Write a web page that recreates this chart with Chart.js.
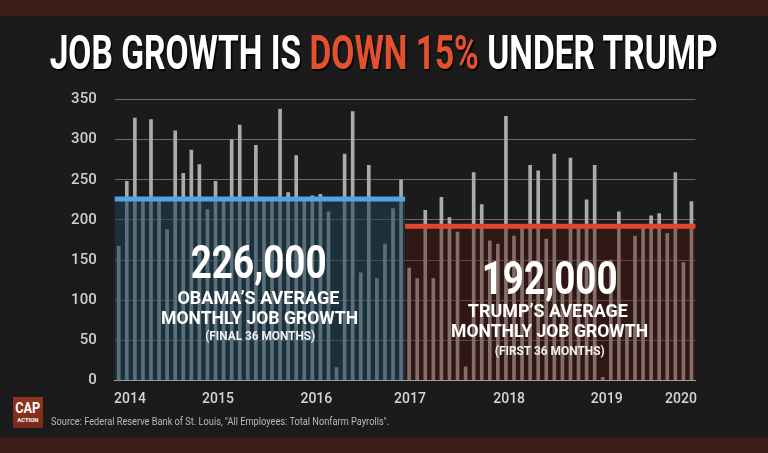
<!DOCTYPE html>
<html>
<head>
<meta charset="utf-8">
<script src="https://cdn.jsdelivr.net/npm/chart.js@4/dist/chart.umd.min.js"></script>
<style>
html,body{margin:0;padding:0;background:#1b1b1b;width:768px;height:453px;overflow:hidden;}
#wrap{position:relative;width:768px;height:453px;font-family:Roboto,"DejaVu Sans",sans-serif;}
.band{position:absolute;left:0;width:768px;background:#3d1c16;}
#c{position:absolute;left:0;top:0;}
.fit{position:absolute;white-space:nowrap;transform-origin:50% 50%;font-weight:700;color:#fff;}
#logo{position:absolute;left:13px;top:397px;width:30px;height:31px;background:linear-gradient(#93341f,#7a2a1b);}
</style>
</head>
<body>
<div id="wrap">
  <div class="band" style="top:0;height:16px"></div>
  <div class="band" style="top:437px;height:16px"></div>
  <canvas id="c" width="768" height="453"></canvas>

  <div class="fit" data-cx="384" data-w="668" data-cap="35" style="font-size:48px;line-height:48px;text-shadow:2px 2px 1px rgba(0,0,0,0.95);">JOB GROWTH IS <span style="color:#e5512f">DOWN 15%</span> UNDER TRUMP</div>

  <div class="fit" data-cx="259" data-w="136" data-cap="244" style="font-size:47px;line-height:47px;">226,000</div>
  <div class="fit" data-cx="258" data-w="162" data-cap="290" style="font-size:19px;line-height:19px;">OBAMA’S AVERAGE</div>
  <div class="fit" data-cx="260" data-w="197" data-cap="310" style="font-size:19px;line-height:19px;">MONTHLY JOB GROWTH</div>
  <div class="fit" data-cx="260" data-w="110" data-cap="331" style="font-size:12.5px;line-height:13px;color:#f0f0f0;">(FINAL 36 MONTHS)</div>

  <div class="fit" data-cx="550" data-w="136" data-cap="260" style="font-size:47px;line-height:47px;">192,000</div>
  <div class="fit" data-cx="548" data-w="160" data-cap="303" style="font-size:19px;line-height:19px;">TRUMP’S AVERAGE</div>
  <div class="fit" data-cx="550" data-w="197" data-cap="323" style="font-size:19px;line-height:19px;">MONTHLY JOB GROWTH</div>
  <div class="fit" data-cx="550" data-w="110" data-cap="346" style="font-size:12.5px;line-height:13px;color:#f0f0f0;">(FIRST 36 MONTHS)</div>

  <div id="logo"></div>
  <div class="fit" data-cx="28" data-w="25" data-cap="403" style="font-size:14px;line-height:14px;">CAP</div>
  <div class="fit" data-cx="27.5" data-w="21" data-cap="417.5" style="font-size:6px;line-height:6px;">ACTION</div>

  <div class="fit" data-cx="220" data-w="338" data-cap="418" style="font-size:10px;line-height:10px;font-weight:400;color:#b9b9b9;">Source: Federal Reserve Bank of St. Louis, "All Employees: Total Nonfarm Payrolls".</div>
</div>

<script>
// ---- data (thousands of jobs per month) ----
const obamaJobs = [167, 248, 327, 224, 325, 227, 188, 311, 258, 287, 269, 213,
                   248, 225, 300, 318, 228, 293, 226, 224, 338, 234, 280, 227,
                   230, 232, 210, 16, 282, 335, 134, 268, 127, 170, 214, 250];
const trumpJobs = [140, 127, 212, 127, 228, 203, 185, 17, 259, 219, 174, 170,
                   329, 180, 194, 268, 261, 176, 282, 108, 277, 194, 225, 268,
                   4, 150, 210, 70, 180, 194, 205, 208, 183, 259, 147, 223];
const obamaAverage = 226;
const trumpAverage = 192;
const yearLabels = ['2014', '2015', '2016', '2017', '2018', '2019', '2020'];
const yearTickAt = [1.4, 12.3, 24.5, 36.1, 48.4, 60.5, 69.7];
const yTickValues = [0, 50, 100, 150, 200, 250, 300, 350];

const allJobs = obamaJobs.concat(trumpJobs);

const eraOverlay = {
  id: 'eraOverlay',
  afterDatasetsDraw(chart) {
    const {ctx, scales: {x, y}} = chart;
    const xs = x.getPixelForValue(-0.5);
    const xm = x.getPixelForValue(obamaJobs.length - 0.5);
    const xe = x.getPixelForValue(allJobs.length - 0.5);
    const y0 = y.getPixelForValue(0);
    const yo = y.getPixelForValue(obamaAverage);
    const yt = y.getPixelForValue(trumpAverage);
    ctx.save();
    ctx.fillStyle = 'rgba(31,66,86,0.56)';
    ctx.fillRect(xs, yo, xm - xs, y0 - yo);
    ctx.fillStyle = 'rgba(78,18,8,0.40)';
    ctx.fillRect(xm, yt, xe - xm, y0 - yt);
    ctx.lineWidth = 5;
    ctx.strokeStyle = '#4fa5e4';
    ctx.beginPath(); ctx.moveTo(xs, yo); ctx.lineTo(xm, yo); ctx.stroke();
    ctx.strokeStyle = '#e0472b';
    ctx.beginPath(); ctx.moveTo(xm, yt); ctx.lineTo(xe, yt); ctx.stroke();
    ctx.restore();
  }
};

new Chart(document.getElementById('c'), {
  type: 'bar',
  data: {
    datasets: [{
      data: allJobs.map((v, i) => ({x: i, y: v})),
      backgroundColor: '#ababab',
      barThickness: 3
    }]
  },
  options: {
    responsive: false,
    animation: false,
    devicePixelRatio: 1,
    layout: {padding: {left: 0, right: 72.5, top: 99.5, bottom: 0}},
    plugins: {legend: {display: false}, tooltip: {enabled: false}},
    scales: {
      x: {
        type: 'linear',
        min: -0.5,
        max: allJobs.length - 0.5,
        offset: false,
        z: 1,
        grid: {display: false, drawTicks: false},
        border: {display: true, color: '#b9c0c2', width: 1},
        afterBuildTicks: s => { s.ticks = yearTickAt.map(v => ({value: v})); },
        afterFit: s => { s.height = 72.5; },
        ticks: {
          autoSkip: false, maxRotation: 0, padding: 11,
          color: '#d6d6d6',
          font: {family: 'Roboto', size: 14, weight: '500'},
          callback: (v, i) => yearLabels[i]
        }
      },
      y: {
        min: 0, max: 350,
        afterBuildTicks: s => { s.ticks = yTickValues.map(v => ({value: v})); },
        afterFit: s => { s.width = 114.7; },
        grid: {
          drawTicks: false,
          color: c => c.tick && c.tick.value === 0 ? 'rgba(0,0,0,0)' : '#6b6b6b',
          lineWidth: 1
        },
        border: {display: false},
        ticks: {
          padding: 18,
          color: '#cfcfcf',
          font: {family: 'Roboto', size: 15, weight: '500'}
        }
      }
    }
  },
  plugins: [eraOverlay]
});

function fitTexts() {
  document.querySelectorAll('.fit').forEach(el => {
    el.style.transform = 'none';
    const fs = parseFloat(el.style.fontSize);
    const lh = parseFloat(el.style.lineHeight);
    const w = el.getBoundingClientRect().width;
    const target = parseFloat(el.dataset.w);
    const cx = parseFloat(el.dataset.cx);
    const capTop = parseFloat(el.dataset.cap);
    // Roboto: ascent .927, descent .244, cap .711
    const base = (lh - 1.171 * fs) / 2 + 0.927 * fs;
    el.style.left = (cx - w / 2) + 'px';
    el.style.top = (capTop - (base - 0.711 * fs)) + 'px';
    el.style.transform = 'scaleX(' + (target / w) + ')';
  });
}
fitTexts();
if (document.fonts && document.fonts.ready) document.fonts.ready.then(fitTexts);
</script>
</body>
</html>
